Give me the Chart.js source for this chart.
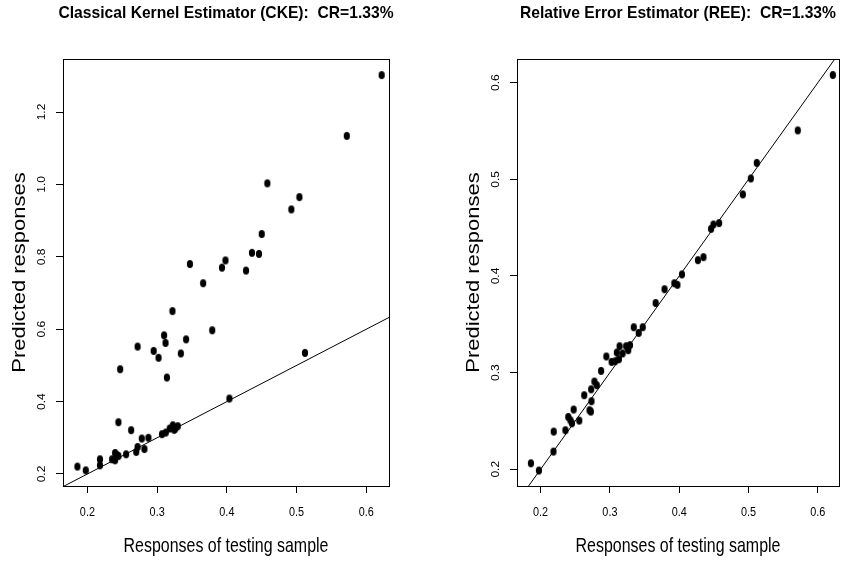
<!DOCTYPE html>
<html>
<head>
<meta charset="utf-8">
<script src="https://cdn.jsdelivr.net/npm/chart.js@4.4.1/dist/chart.umd.min.js"></script>
<style>
  html, body { margin: 0; padding: 0; background: #fff; }
  #wrap { position: relative; width: 844px; height: 563px; }
  canvas { position: absolute; top: 0; }
  #cke { left: 0; }
  #ree { left: 422px; }
</style>
</head>
<body>
<div id="wrap">
  <canvas id="cke" width="422" height="563"></canvas>
  <canvas id="ree" width="422" height="563"></canvas>
</div>
<script>
const xTicks = [0.2, 0.3, 0.4, 0.5, 0.6];
const ckeTicks = [0.2, 0.4, 0.6, 0.8, 1.0, 1.2];
const reeTicks = [0.2, 0.3, 0.4, 0.5, 0.6];

// classical kernel estimator: observed vs predicted
const ckeObserved = [
  0.622, 0.572, 0.458, 0.504, 0.4925, 0.450, 0.436, 0.446, 0.347, 0.398,
  0.393, 0.4275, 0.366, 0.322, 0.379, 0.310, 0.3415, 0.312, 0.272, 0.295,
  0.334, 0.302, 0.512, 0.247, 0.314, 0.4036, 0.2445, 0.2627, 0.278, 0.2875,
  0.307, 0.3124, 0.318, 0.3225, 0.326, 0.3296, 0.3245, 0.2817, 0.272, 0.270,
  0.2555, 0.2397, 0.243, 0.2445, 0.2354, 0.2397, 0.218, 0.218, 0.1977, 0.1857
];
const ckePredicted = [
  1.302, 1.134, 1.003, 0.965, 0.931, 0.863, 0.811, 0.808, 0.780, 0.790,
  0.770, 0.762, 0.727, 0.650, 0.597, 0.583, 0.572, 0.562, 0.552, 0.540,
  0.533, 0.521, 0.5345, 0.4895, 0.4665, 0.4085, 0.343, 0.321, 0.298, 0.300,
  0.310, 0.3145, 0.3255, 0.3346, 0.3255, 0.332, 0.322, 0.269, 0.2747, 0.261,
  0.2545, 0.258, 0.2517, 0.2495, 0.2406, 0.2379, 0.2406, 0.224, 0.210, 0.2205
];

// relative error estimator: observed vs predicted
const reeObserved = [
  0.6216, 0.571, 0.5119, 0.5033, 0.4918, 0.4575, 0.4494, 0.446, 0.435, 0.427,
  0.404, 0.393, 0.3974, 0.3788, 0.366, 0.3345, 0.3474, 0.3416, 0.314, 0.329,
  0.3235, 0.3264, 0.310, 0.3183, 0.313, 0.2949, 0.3025, 0.3077, 0.2873, 0.2777,
  0.2811, 0.273, 0.263, 0.2734, 0.2706, 0.2725, 0.2477, 0.240, 0.243, 0.2453,
  0.2558, 0.2358, 0.219, 0.2186, 0.1976, 0.1861
];
const reePredicted = [
  0.6079, 0.5506, 0.517, 0.5009, 0.4844, 0.4547, 0.4533, 0.4488, 0.4195, 0.4164,
  0.4016, 0.3925, 0.3908, 0.3863, 0.372, 0.347, 0.347, 0.3411, 0.3273, 0.3284,
  0.3273, 0.3232, 0.3208, 0.3198, 0.3139, 0.3167, 0.3111, 0.3118, 0.3018, 0.2908,
  0.287, 0.2828, 0.2766, 0.2704, 0.2611, 0.2597, 0.2618, 0.2541, 0.2507, 0.2476,
  0.2504, 0.2404, 0.239, 0.2183, 0.1987, 0.2062
];

const FONT = '"Liberation Sans", Arial, Helvetica, sans-serif';

// solid dot, slightly taller than wide
function makeDot() {
  const c = document.createElement('canvas');
  c.width = 8;
  c.height = 10;
  const g = c.getContext('2d');
  g.fillStyle = '#000';
  g.beginPath();
  g.ellipse(4, 5, 3.1, 3.9, 0, 0, Math.PI * 2);
  g.fill();
  return c;
}
const dot = makeDot();

function drawText(ctx, text, x, y, font, sx, sy, rot) {
  ctx.save();
  ctx.translate(x, y);
  if (rot) ctx.rotate(rot);
  ctx.scale(sx, sy);
  ctx.font = font;
  ctx.textAlign = 'center';
  ctx.textBaseline = 'middle';
  ctx.fillStyle = '#000';
  ctx.fillText(text, 0, 0);
  ctx.restore();
}

// box, tick labels, titles
const frame = {
  id: 'frame',
  afterDraw(chart, args, opts) {
    const ctx = chart.ctx;
    const a = chart.chartArea;
    const sx = chart.scales.x, sy = chart.scales.y;
    const cx = (a.left + a.right) / 2;

    ctx.save();
    ctx.strokeStyle = '#000';
    ctx.lineWidth = 1;
    ctx.strokeRect(Math.round(a.left) + 0.5, Math.round(a.top) + 0.5,
      Math.round(a.right - a.left), Math.round(a.bottom - a.top));
    ctx.restore();

    xTicks.forEach(v => drawText(ctx, v.toFixed(1), sx.getPixelForValue(v), a.bottom + 27,
      '12.5px ' + FONT, 0.87, 1));
    opts.yTicks.forEach(v => drawText(ctx, v.toFixed(1), a.left - 21, sy.getPixelForValue(v),
      '12px ' + FONT, 1, 0.85, -Math.PI / 2));

    drawText(ctx, opts.title, cx, 13, 'bold 17px ' + FONT, 0.92, 1);
    drawText(ctx, 'Responses of testing sample', cx, 546, '21px ' + FONT, 0.76, 1);
    drawText(ctx, 'Predicted responses', a.left - 43, (a.top + a.bottom) / 2,
      '22px ' + FONT, 1, 0.8, -Math.PI / 2);
  }
};

function makeChart(id, title, xs, ys, yTicks, xMin, xMax, yMin, yMax, yWidth, padRight) {
  const lo = Math.min(xMin, yMin), hi = Math.max(xMax, yMax);
  return new Chart(document.getElementById(id), {
    type: 'scatter',
    data: {
      datasets: [
        {
          data: xs.map((x, i) => ({ x: x, y: ys[i] })),
          pointStyle: dot,
          pointRadius: 4,
          pointHoverRadius: 4
        },
        {
          type: 'line',
          data: [{ x: lo, y: lo }, { x: hi, y: hi }],
          borderColor: '#000',
          borderWidth: 1,
          pointRadius: 0,
          fill: false,
          clip: 0
        }
      ]
    },
    options: {
      responsive: false,
      animation: false,
      events: [],
      layout: { padding: { left: 0, top: 59, right: padRight, bottom: 0 } },
      plugins: {
        legend: { display: false },
        tooltip: { enabled: false },
        frame: { title: title, yTicks: yTicks }
      },
      scales: {
        x: {
          type: 'linear',
          min: xMin,
          max: xMax,
          afterBuildTicks: s => { s.ticks = xTicks.map(v => ({ value: v })); },
          afterFit: s => { s.height = 77; },
          ticks: { display: false },
          grid: { drawOnChartArea: false, drawTicks: true, tickLength: 7, tickColor: '#000', tickWidth: 1 },
          border: { display: false }
        },
        y: {
          type: 'linear',
          min: yMin,
          max: yMax,
          afterBuildTicks: s => { s.ticks = yTicks.map(v => ({ value: v })); },
          afterFit: s => { s.width = yWidth; },
          ticks: { display: false },
          grid: { drawOnChartArea: false, drawTicks: true, tickLength: 7, tickColor: '#000', tickWidth: 1 },
          border: { display: false }
        }
      }
    },
    plugins: [frame]
  });
}

makeChart('cke', 'Classical Kernel Estimator (CKE):  CR=1.33%',
  ckeObserved, ckePredicted, ckeTicks, 0.165, 0.6325, 0.1668, 1.3465, 63, 33);
makeChart('ree', 'Relative Error Estimator (REE):  CR=1.33%',
  reeObserved, reePredicted, reeTicks, 0.166, 0.6305, 0.1827, 0.6245, 95, 2);
</script>
</body>
</html>
